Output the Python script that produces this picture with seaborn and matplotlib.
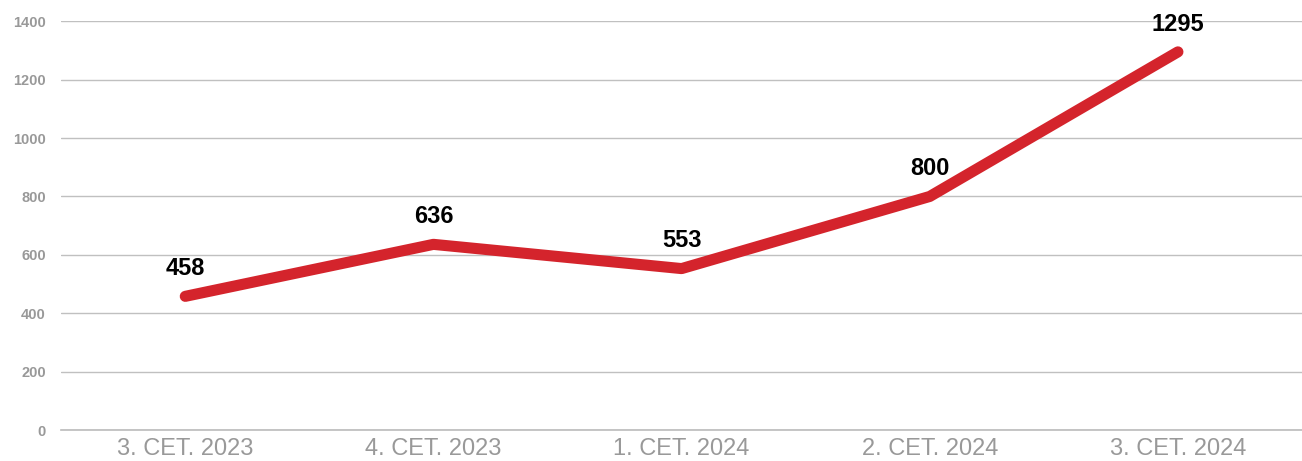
import matplotlib
matplotlib.use("Agg")
import matplotlib.pyplot as plt
import pandas as pd
import seaborn as sns

# Data
quarters = ["3. CET. 2023", "4. CET. 2023", "1. CET. 2024", "2. CET. 2024", "3. CET. 2024"]
values = [458, 636, 553, 800, 1295]
y_ticks = [0, 200, 400, 600, 800, 1000, 1200, 1400]

df = pd.DataFrame({"quarter": quarters, "value": values})

sns.set_style("white")
plt.rcParams["font.family"] = ["Liberation Sans", "DejaVu Sans"]

fig = plt.figure(figsize=(13.02, 4.61), dpi=100)
ax = fig.add_axes([0.047, 0.067, 0.953, 0.887])

pos = list(range(len(quarters)))
sns.lineplot(x=pos, y=df["value"], ax=ax, color="#d4242c", linewidth=8,
             solid_capstyle="round", solid_joinstyle="round", zorder=3)

for x, v in zip(pos, values):
    ax.annotate(str(v), (x, v), xytext=(0, 20), textcoords="offset points",
                ha="center", va="center", fontsize=17, fontweight="bold", color="black")

ax.set_xlim(-0.5, len(quarters) - 0.5)
ax.set_ylim(0, 1400)
ax.set_yticks(y_ticks)
ax.set_yticklabels([str(t) for t in y_ticks], fontsize=10.5, fontweight="bold", color="#999999")
ax.set_xticks(pos)
ax.set_xticklabels(quarters, fontsize=17, color="#999999")
ax.set_xticks([p - 0.5 for p in pos] + [len(quarters) - 0.5], minor=True)
ax.tick_params(axis="x", which="major", length=0, pad=6)
ax.tick_params(axis="x", which="minor", length=6, color="#bbbbbb", width=1)
ax.tick_params(axis="y", length=0, pad=11)

ax.grid(axis="y", color="#c0c0c0", linewidth=1)
ax.set_axisbelow(True)
for s in ["top", "right", "left"]:
    ax.spines[s].set_visible(False)
ax.spines["bottom"].set_color("#bbbbbb")
ax.spines["bottom"].set_linewidth(1.2)
ax.set_xlabel("")
ax.set_ylabel("")

fig.savefig("out.png", dpi=100)
